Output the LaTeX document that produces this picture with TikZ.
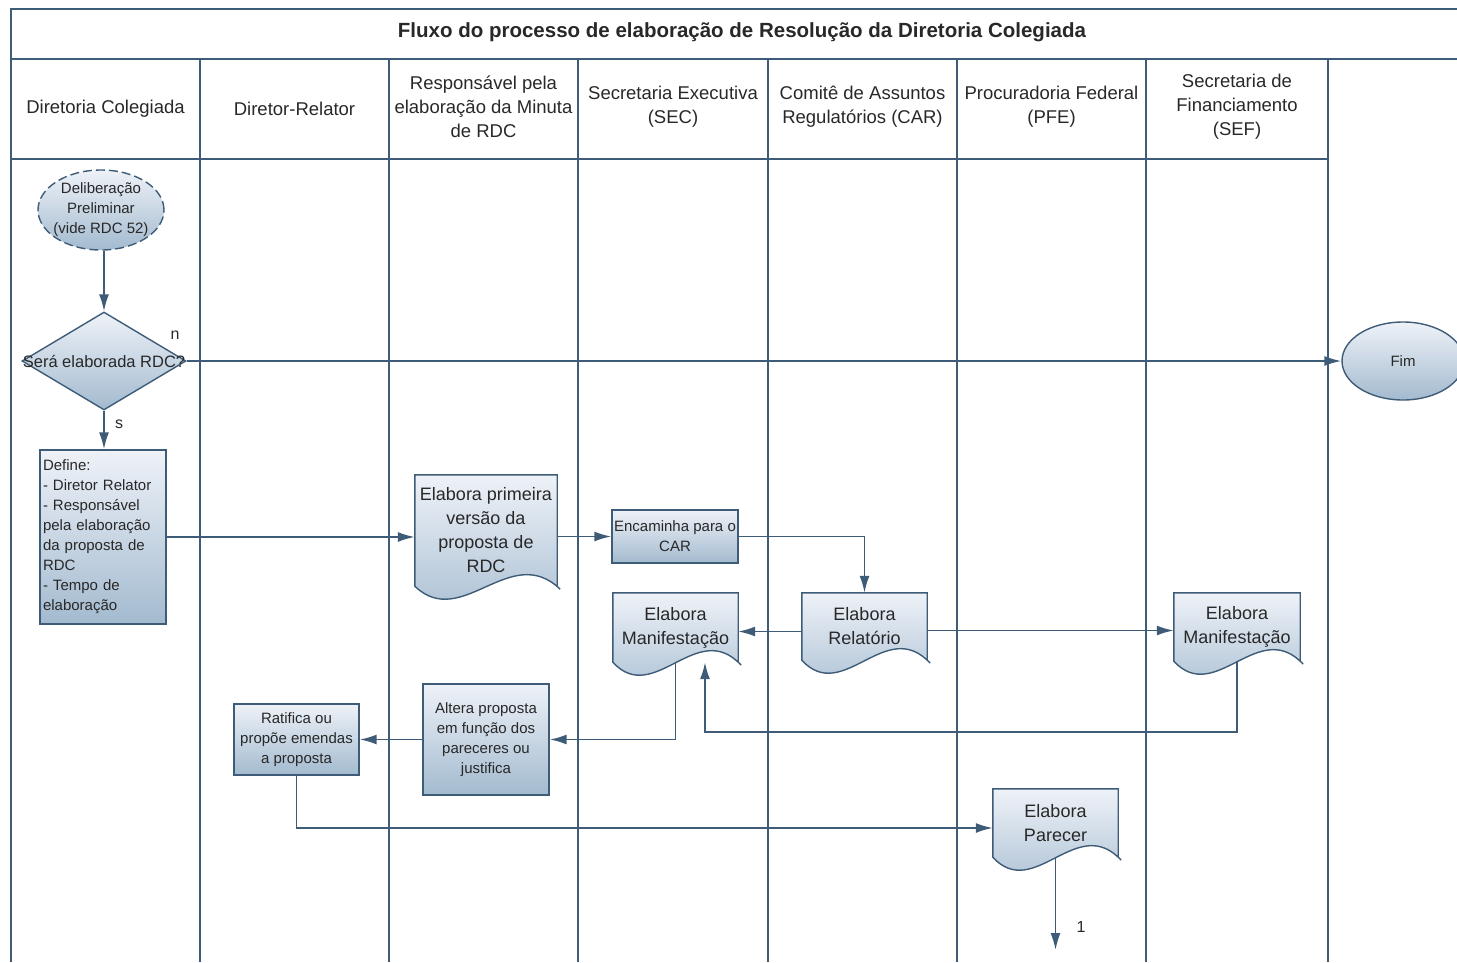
\documentclass[tikz,border=0pt]{standalone}
\usepackage{fontspec}
\setmainfont{Liberation Sans}
\usetikzlibrary{shapes.geometric,arrows.meta,calc,backgrounds}

\definecolor{lanecol}{RGB}{62,92,120}
\definecolor{shadetop}{RGB}{238,242,248}
\definecolor{shadebot}{RGB}{163,186,207}
\definecolor{txtcol}{RGB}{40,40,40}

\tikzset{
	>={Latex[length=17pt,width=10pt]},
	lane/.style={draw=lanecol, line width=1.8pt},
	flow/.style={draw=lanecol, line width=1.8pt, ->},
	blueshade/.style={top color=shadetop, bottom color=shadebot},
	procbox/.style={blueshade, draw=lanecol, line width=1.4pt, align=center, inner sep=2pt, text=txtcol, font=\fontsize{15}{20}\selectfont},
	docbox/.style={align=center, inner sep=2pt, text=txtcol, font=\fontsize{18}{24}\selectfont},
	docpath/.style={blueshade, draw=lanecol, line width=1.4pt},
	hdr/.style={align=center, text=txtcol, font=\fontsize{18.5}{24}\selectfont},
	lbl/.style={text=txtcol, font=\fontsize{16}{18}\selectfont},
}

% documento com base ondulada
\newcommand{\docshape}[1]{%
	\path[docpath] (#1.south west) -- (#1.north west) -- (#1.north east) -- (#1.south east)
		-- ($(#1.south east)+(3pt,-3pt)$)
		.. controls ($(#1.south east)!0.33!(#1.south west)+(0pt,45pt)$) and ($(#1.south east)!0.67!(#1.south west)+(0pt,-45pt)$) .. (#1.south west) -- cycle;}

\begin{document}
\begin{tikzpicture}[x=1pt, y=-1pt]
	\useasboundingbox (0,0) rectangle (1457,962);

	% titulo e raias
	\node[hdr, font=\bfseries\fontsize{20.5}{24}\selectfont] (titulo) at (742,32) {Fluxo do processo de elaboração de Resolução da Diretoria Colegiada};
	\node[hdr] (hdrDC) at (105.5,109) {Diretoria Colegiada};
	\node[hdr] (hdrDR) at (294.5,109) {Diretor-Relator};
	\node[hdr] (hdrRM) at (483.5,107) {Responsável pela\\elaboração da Minuta\\de RDC};
	\node[hdr] (hdrSEC) at (673,107) {Secretaria Executiva\\(SEC)};
	\node[hdr] (hdrCAR) at (862.5,107) {Comitê de Assuntos\\Regulatórios (CAR)};
	\node[hdr] (hdrPFE) at (1051.5,107) {Procuradoria Federal\\(PFE)};
	\node[hdr] (hdrSEF) at (1237,107) {Secretaria de\\Financiamento\\(SEF)};

	% Diretoria Colegiada
	\node[ellipse, blueshade, draw=lanecol, dash pattern=on 9pt off 4pt, line width=1.4pt, minimum width=126pt, minimum height=80pt, inner sep=-6pt, align=center, text=txtcol, font=\fontsize{15}{20}\selectfont] (inicio) at (101,210) {Deliberação\\Preliminar\\(vide RDC 52)};
	\node[diamond, blueshade, draw=lanecol, line width=1.4pt, minimum width=164pt, minimum height=98pt, inner sep=0pt, label={[lbl, font=\fontsize{16.5}{20}\selectfont]center:Será elaborada RDC?}] (decisao) at (104,361) {};
	\node[procbox, minimum width=126pt, minimum height=174pt, text width=120pt, align=left, inner sep=3pt] (define) at (103,537) {Define:\\- Diretor Relator\\- Responsável\\pela elaboração\\da proposta de\\RDC\\- Tempo de\\elaboração};
	\node[ellipse, blueshade, draw=lanecol, line width=1.4pt, minimum width=122pt, minimum height=78pt, inner sep=0pt, text=txtcol, font=\fontsize{15}{20}\selectfont] (fim) at (1403,361) {Fim};

	% demais raias
	\node[docbox, minimum width=142pt, minimum height=111pt] (primeira) at (486,530.5) {Elabora primeira\\versão da\\proposta de\\RDC};
	\node[procbox, minimum width=126pt, minimum height=53pt] (encaminha) at (675,536.5) {Encaminha para o\\CAR};
	\node[docbox, minimum width=125pt, minimum height=69pt] (manSEC) at (675.5,627.5) {Elabora\\Manifestação};
	\node[docbox, minimum width=125pt, minimum height=67pt] (relatorio) at (864.5,626.5) {Elabora\\Relatório};
	\node[docbox, minimum width=126pt, minimum height=68pt] (manSEF) at (1237,627) {Elabora\\Manifestação};
	\node[procbox, minimum width=126pt, minimum height=111pt] (altera) at (486,739.5) {Altera proposta\\em função dos\\pareceres ou\\justifica};
	\node[procbox, minimum width=125pt, minimum height=71pt] (ratifica) at (296.5,739.5) {Ratifica ou\\propõe emendas\\a proposta};
	\node[docbox, minimum width=125pt, minimum height=68pt] (parecer) at (1055.5,823) {Elabora\\Parecer};

	\begin{scope}[on background layer]
		\draw[lane] (11,962) -- (11,9) -- (1457,9);
		\draw[lane] (11,59) -- (1457,59);
		\draw[lane] (11,159) -- (1328,159);
		\draw[lane] (200,59) -- (200,962);
		\draw[lane] (389,59) -- (389,962);
		\draw[lane] (578,59) -- (578,962);
		\draw[lane] (768,59) -- (768,962);
		\draw[lane] (957,59) -- (957,962);
		\draw[lane] (1146,59) -- (1146,962);
		\draw[lane] (1328,59) -- (1328,962);
		\docshape{primeira}
		\docshape{manSEC}
		\docshape{relatorio}
		\docshape{manSEF}
		\docshape{parecer}
	\end{scope}

	% conexoes
	\draw[flow] (decisao.north |- inicio.south) -- (decisao.north);
	\draw[flow] (decisao.east) -- (fim.west);
	\node[lbl] (rotN) at (175,335) {n};
	\draw[flow] (decisao.south) -- (decisao.south |- define.north);
	\node[lbl] (rotS) at (119,424) {s};
	\draw[flow] (define.east) -- (define.east -| primeira.west);
	\draw[flow] (encaminha.west -| primeira.east) -- (encaminha.west);
	\draw[flow] (encaminha.east) -| (relatorio.north);
	\draw[flow] ([yshift=-5pt]relatorio.west) -- ([yshift=-5pt]relatorio.west -| manSEC.east);
	\draw[flow] ([yshift=-4pt]relatorio.east) -- ([yshift=-4pt]relatorio.east -| manSEF.west);
	\coordinate (retorno) at (705,732);
	\draw[flow] (manSEF.south) |- (retorno) -- (retorno |- manSEC.south);
	\draw[flow] (manSEC.south) |- (altera.east);
	\draw[flow] (altera.west) -- (ratifica.east);
	\draw[flow] (ratifica.south) |- ([yshift=-5pt]parecer.west);
	\coordinate (saida) at (1055.5,950);
	\draw[flow] (parecer.south) -- (saida);
	\node[lbl] (rotUm) at (1081,927) {1};
\end{tikzpicture}
\end{document}
